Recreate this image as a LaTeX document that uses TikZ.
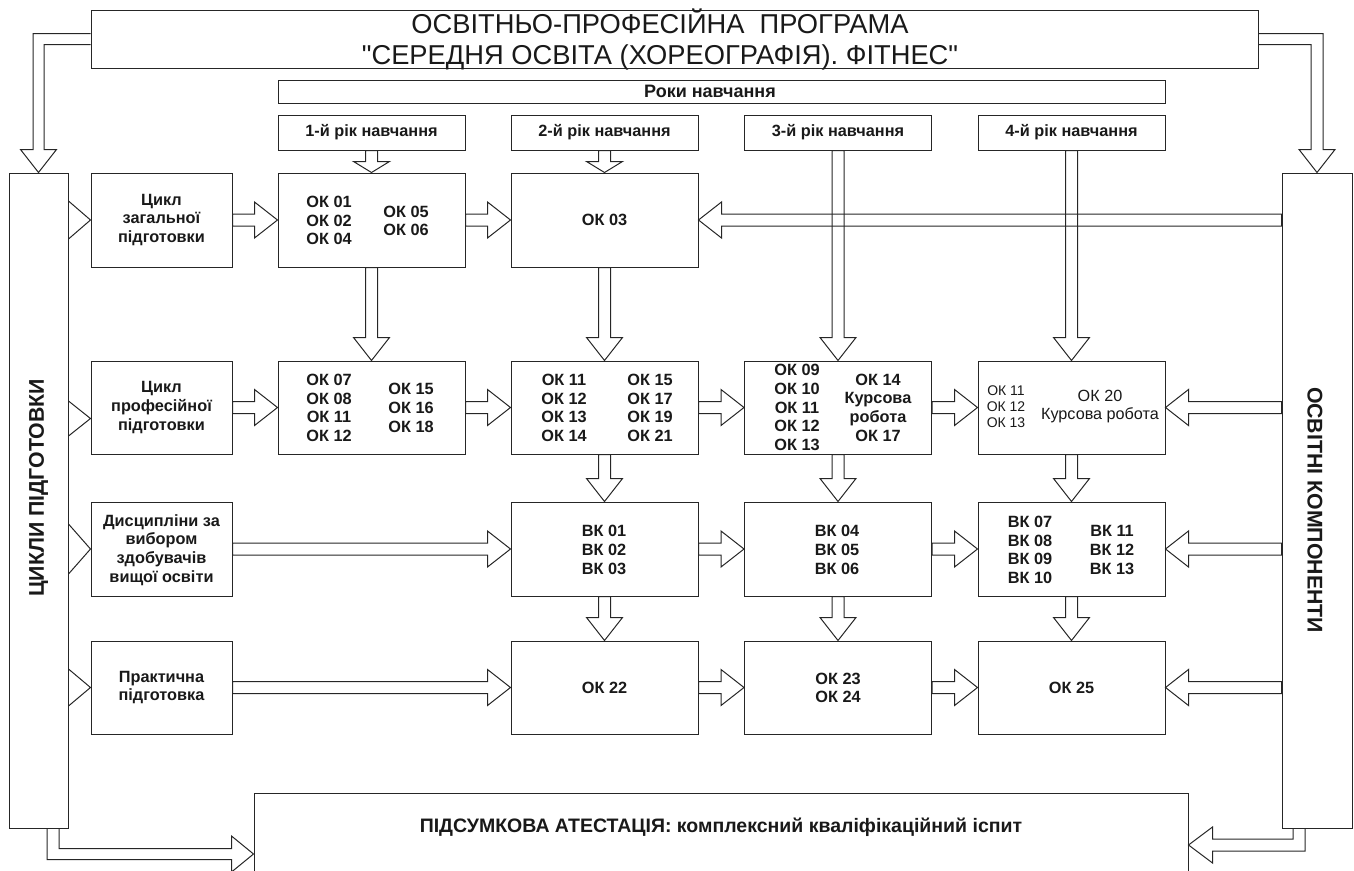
\documentclass[tikz,border=0pt]{standalone}
\usepackage{fontspec}
\setmainfont{Liberation Sans}[Ligatures=TeXOff]
\usetikzlibrary{calc}
\newcommand\harr[3][23pt]{%
 \draw[blk] let \p1=(#2), \p2=(#3), \n1={sign(\x2-\x1)} in
  (\x1,\y2+6pt) -- (\x2-\n1*#1,\y2+6pt) -- (\x2-\n1*#1,\y2+18pt) -- (\p2) --
  (\x2-\n1*#1,\y2-18pt) -- (\x2-\n1*#1,\y2-6pt) -- (\x1,\y2-6pt) -- cycle;}
\newcommand\varr[3][23pt]{%
 \draw[blk] let \p1=(#2), \p2=(#3), \n1={sign(\y2-\y1)} in
  (\x2+6pt,\y1) -- (\x2+6pt,\y2-\n1*#1) -- (\x2+18pt,\y2-\n1*#1) -- (\p2) --
  (\x2-18pt,\y2-\n1*#1) -- (\x2-6pt,\y2-\n1*#1) -- (\x2-6pt,\y1) -- cycle;}
\newcommand\sidetri[3][0pt]{%
 \draw[blk] let \p1=(lb.east), \p2=([yshift=#1]#2.west) in
  (\x1,\y2+#3) -- (\p2) -- (\x1,\y2-#3);}
\begin{document}
\begin{tikzpicture}[x=1pt,y=-1pt,
  blk/.style={draw=black!85, line width=1pt, line join=miter},
  bx/.style={draw=black!85, line width=1pt, rectangle, inner sep=0pt},
  cb/.style={bx, minimum width=141pt},
  kb/.style={bx, minimum width=187pt},
  tb/.style={font=\fontsize{16.3}{18.7}\selectfont\bfseries, align=center, inner sep=0pt, text=black!90},
  tr/.style={font=\fontsize{14}{16}\selectfont, align=center, inner sep=0pt, text=black!90},
  yt/.style={font=\fontsize{16.3}{18}\selectfont\bfseries, inner sep=0pt, text=black!90}]
\useasboundingbox (0,0) rectangle (1354,870);
\clip (0,0) rectangle (1354,870);
% frames
\node[bx, minimum width=1167pt, minimum height=58pt] (title) at (674.5,39) {};
\node[bx, minimum width=887pt, minimum height=23pt] (roki) at (721.5,91.5) {};
\node[kb, minimum height=35pt] (y1) at (371.5,132.5) {};
\node[kb, minimum height=35pt] (y2) at (604.5,132.5) {};
\node[kb, minimum height=35pt] (y3) at (838,132.5) {};
\node[kb, minimum height=35pt] (y4) at (1071.5,132.5) {};
\node[bx, minimum width=59pt, minimum height=655pt] (lb) at (38.5,500.5) {};
\node[bx, minimum width=70pt, minimum height=655pt] (rb) at (1317,500.5) {};
\node[bx, minimum width=934pt, minimum height=122pt] (bb) at (721,854) {};
% cycle boxes
\node[cb, minimum height=94pt] (cy1) at (161.5,220) {};
\node[cb, minimum height=93pt] (cy2) at (161.5,407.5) {};
\node[cb, minimum height=94pt] (cy3) at (161.5,549) {};
\node[cb, minimum height=93pt] (cy4) at (161.5,687.5) {};
% row 1
\node[kb, minimum height=94pt] (a1) at (371.5,220) {};
\node[kb, minimum height=94pt] (a2) at (604.5,220) {};
% row 2
\node[kb, minimum height=93pt] (b1) at (371.5,407.5) {};
\node[kb, minimum height=93pt] (b2) at (604.5,407.5) {};
\node[kb, minimum height=93pt] (b3) at (838,407.5) {};
\node[kb, minimum height=93pt] (b4) at (1071.5,407.5) {};
% row 3
\node[kb, minimum height=94pt] (c2) at (604.5,549) {};
\node[kb, minimum height=94pt] (c3) at (838,549) {};
\node[kb, minimum height=94pt] (c4) at (1071.5,549) {};
% row 4
\node[kb, minimum height=93pt] (d2) at (604.5,687.5) {};
\node[kb, minimum height=93pt] (d3) at (838,687.5) {};
\node[kb, minimum height=93pt] (d4) at (1071.5,687.5) {};
% texts
\node[font=\fontsize{27.3}{31}\selectfont, align=center, inner sep=0pt, text=black!90] (titlet) at (660,39)
  {ОСВІТНЬО-ПРОФЕСІЙНА\ \ ПРОГРАМА\\"СЕРЕДНЯ ОСВІТА (ХОРЕОГРАФІЯ). ФІТНЕС"};
\node[font=\fontsize{18}{20}\selectfont\bfseries, inner sep=0pt, text=black!90] (rokit) at (710,91.5) {Роки навчання};
\node[yt] (y1t) at (y1) {1-й рік навчання};
\node[yt] (y2t) at (y2) {2-й рік навчання};
\node[yt] (y3t) at (y3) {3-й рік навчання};
\node[yt] (y4t) at (y4) {4-й рік навчання};
\node[font=\fontsize{21.3}{24}\selectfont\bfseries, rotate=90, inner sep=0pt, text=black!90] (lbt) at (38.5,488) {ЦИКЛИ ПІДГОТОВКИ};
\node[font=\fontsize{21.3}{24}\selectfont\bfseries, rotate=-90, inner sep=0pt, text=black!90] (rbt) at (1315,510) {ОСВІТНІ КОМПОНЕНТИ};
\node[font=\fontsize{19.5}{22}\selectfont\bfseries, inner sep=0pt, text=black!90] (bbt) at (721,827)
  {ПІДСУМКОВА АТЕСТАЦІЯ: комплексний кваліфікаційний іспит};
\node[tb] (cy1t) at (cy1) {Цикл\\загальної\\підготовки};
\node[tb] (cy2t) at (cy2) {Цикл\\професійної\\підготовки};
\node[tb] (cy3t) at (161.5,550) {Дисципліни за\\вибором\\здобувачів\\вищої освіти};
\node[tb] (cy4t) at (cy4) {Практична\\підготовка};
\node[tb] (a1l) at (329,220.5) {ОК 01\\ОК 02\\ОК 04};
\node[tb] (a1r) at (406,221) {ОК 05\\ОК 06};
\node[tb] (a2t) at (a2) {ОК 03};
\node[tb] (b1l) at (329,408) {ОК 07\\ОК 08\\ОК 11\\ОК 12};
\node[tb] (b1r) at (411,408) {ОК 15\\ОК 16\\ОК 18};
\node[tb] (b2l) at (564,408) {ОК 11\\ОК 12\\ОК 13\\ОК 14};
\node[tb] (b2r) at (650,408) {ОК 15\\ОК 17\\ОК 19\\ОК 21};
\node[tb] (b3l) at (797,407.5) {ОК 09\\ОК 10\\ОК 11\\ОК 12\\ОК 13};
\node[tb] (b3r) at (878,407.5) {ОК 14\\Курсова\\робота\\ОК 17};
\node[tr] (b4l) at (1006,407) {ОК 11\\ОК 12\\ОК 13};
\node[tr, font=\fontsize{16.2}{18}\selectfont] (b4r) at (1100,407) {ОК 20\\Курсова робота};
\node[tb] (c2t) at (604,550) {ВК 01\\ВК 02\\ВК 03};
\node[tb] (c3t) at (837,550) {ВК 04\\ВК 05\\ВК 06};
\node[tb] (c4l) at (1030,550) {ВК 07\\ВК 08\\ВК 09\\ВК 10};
\node[tb] (c4r) at (1112,550) {ВК 11\\ВК 12\\ВК 13};
\node[tb] (d2t) at (604.5,688) {ОК 22};
\node[tb] (d3t) at (838,688) {ОК 23\\ОК 24};
\node[tb] (d4t) at (1071.5,688) {ОК 25};
% title -> side boxes
\draw[blk] let \p1=(title.west), \p2=(lb.north) in
  (\x1,\y1+5.5pt) -- (\x2-5.5pt,\y1+5.5pt) -- (\x2-5.5pt,\y2+23pt) -- (\x2-18pt,\y2+23pt) -- (\p2)
  -- (\x2+18pt,\y2+23pt) -- (\x2+5.5pt,\y2+23pt) -- (\x2+5.5pt,\y1-5.5pt) -- (\x1,\y1-5.5pt);
\draw[blk] let \p1=(title.east), \p2=(rb.north) in
  (\x1,\y1+5.5pt) -- (\x2+6pt,\y1+5.5pt) -- (\x2+6pt,\y2+23pt) -- (\x2+18pt,\y2+23pt) -- (\p2)
  -- (\x2-18pt,\y2+23pt) -- (\x2-6pt,\y2+23pt) -- (\x2-6pt,\y1-5.5pt) -- (\x1,\y1-5.5pt);
% side boxes -> final attestation
\draw[blk] let \p1=(lb.south), \p2=(bb.west) in
  (\x1+20.5pt,\y1) -- (\x1+20.5pt,\y2+5.5pt) -- (\x2-22pt,\y2+5.5pt) -- (\x2-22pt,\y2+18pt) -- (\p2)
  -- (\x2-22pt,\y2-18pt) -- (\x2-22pt,\y2-5.5pt) -- (\x1+8.5pt,\y2-5.5pt) -- (\x1+8.5pt,\y1);
\draw[blk] let \p1=(rb.south), \p2=([yshift=9pt]bb.east) in
  (\x1-24pt,\y1) -- (\x1-24pt,\y2+6pt) -- (\x2+24pt,\y2+6pt) -- (\x2+24pt,\y2+18pt) -- (\p2)
  -- (\x2+24pt,\y2-18pt) -- (\x2+24pt,\y2-6pt) -- (\x1-12pt,\y2-6pt) -- (\x1-12pt,\y1);
% small triangles from left box
\sidetri{cy1}{19pt}
\sidetri[-11pt]{cy2}{17.5pt}
\sidetri{cy3}{25pt}
\sidetri{cy4}{18.5pt}
% year arrows
\varr[11pt]{y1.south}{a1.north}
\varr[11pt]{y2.south}{a2.north}
\varr{y3.south}{b3.north}
\varr{y4.south}{b4.north}
% row 1
\harr{cy1.east}{a1.west}
\harr{a1.east}{a2.west}
\harr{rb.west}{a2.east}
\varr{a1.south}{b1.north}
\varr{a2.south}{b2.north}
% row 2
\harr{cy2.east}{b1.west}
\harr{b1.east}{b2.west}
\harr{b2.east}{b3.west}
\harr{b3.east}{b4.west}
\harr{rb.west}{b4.east}
\varr{b2.south}{c2.north}
\varr{b3.south}{c3.north}
\varr{b4.south}{c4.north}
% row 3
\harr{cy3.east}{c2.west}
\harr{c2.east}{c3.west}
\harr{c3.east}{c4.west}
\harr{rb.west}{c4.east}
\varr{c2.south}{d2.north}
\varr{c3.south}{d3.north}
\varr{c4.south}{d4.north}
% row 4
\harr{cy4.east}{d2.west}
\harr{d2.east}{d3.west}
\harr{d3.east}{d4.west}
\harr{rb.west}{d4.east}
\end{tikzpicture}
\end{document}
